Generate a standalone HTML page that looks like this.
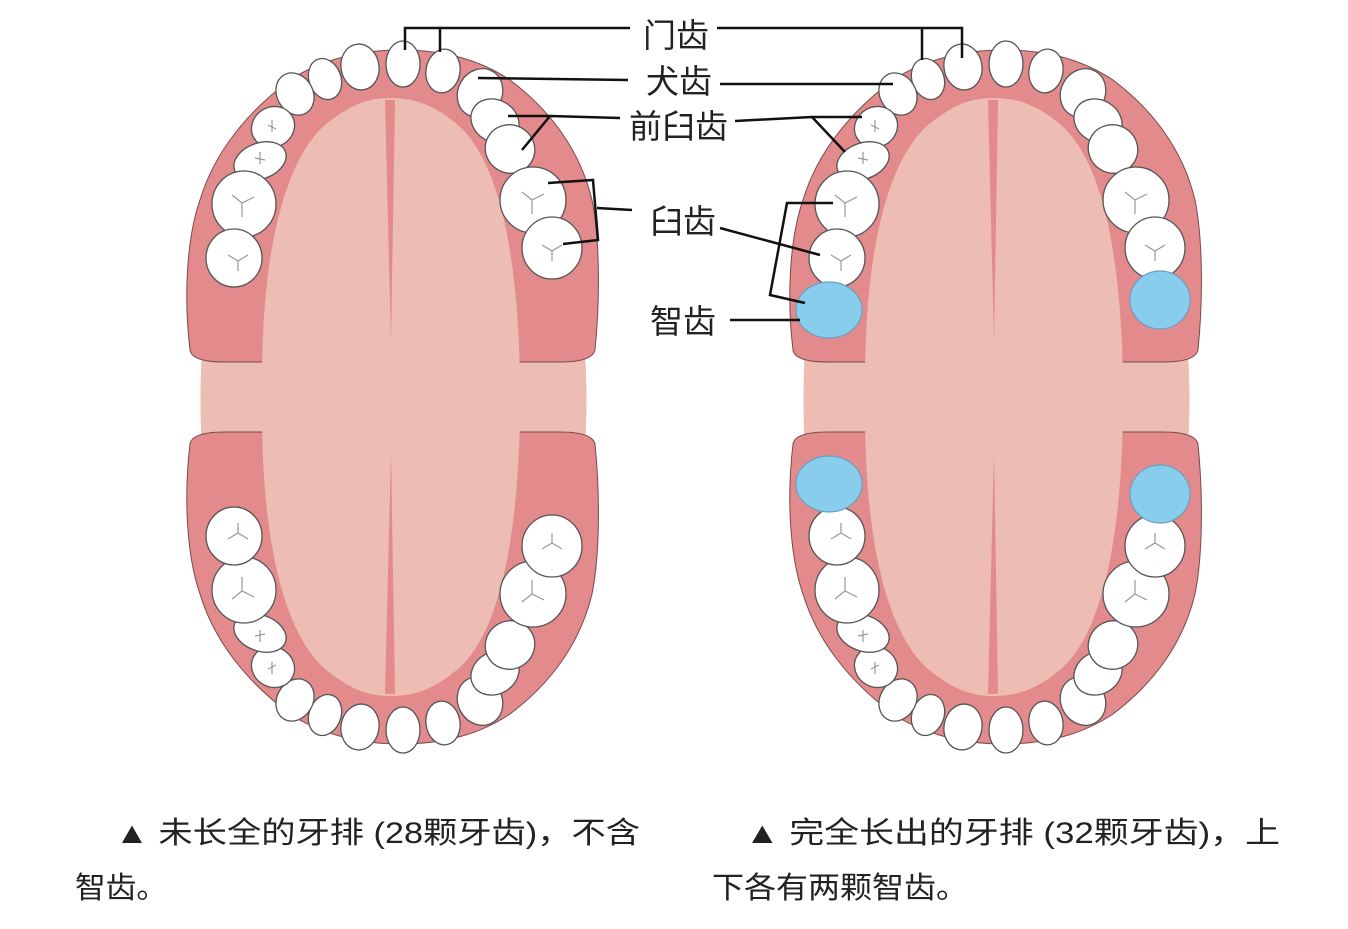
<!DOCTYPE html>
<html><head><meta charset="utf-8"><style>
body{margin:0;background:#fff;width:1348px;height:924px;overflow:hidden;font-family:"Liberation Sans","Noto Sans CJK SC",sans-serif;}
</style></head><body>
<svg width="1348" height="924" viewBox="0 0 1348 924" xmlns="http://www.w3.org/2000/svg">
<defs>
<g id="upper">
  <path d="M190,350 C184,300 186,240 200,200 C215,150 250,110 290,80 C320,60 360,50 400,50 C445,50 480,60 510,80 C550,110 580,150 592,200 C600,240 600,300 595,350 Q592,362 560,362 L225,362 Q192,362 190,350 Z" fill="#e28a8c" stroke="#7a4a4a" stroke-width="1"/>
  <path d="M262,380 C262,250 285,160 325,125 C352,103 370,98 390,98 C412,98 432,103 458,125 C498,160 518,250 520,380 Z" fill="#edbcb2"/>
  <path d="M385,100 L395,100 L391,342 Z" fill="#e28a8c"/>
  <g fill="#fff" stroke="#555" stroke-width="1.3">
    <ellipse cx="403" cy="64" rx="17" ry="23"/>
    <ellipse cx="443" cy="71" rx="17" ry="22" transform="rotate(10 443 71)"/>
    <ellipse cx="360" cy="67" rx="19" ry="23" transform="rotate(-10 360 67)"/>
    <ellipse cx="325" cy="79" rx="16" ry="21" transform="rotate(-20 325 79)"/>
    <ellipse cx="295" cy="94" rx="18" ry="22" transform="rotate(-30 295 94)"/>
    <ellipse cx="273" cy="127" rx="22" ry="20" transform="rotate(-30 273 127)"/>
    <ellipse cx="260" cy="161" rx="27" ry="18" transform="rotate(-20 260 161)"/>
    <ellipse cx="244" cy="204" rx="32" ry="33"/>
    <ellipse cx="234" cy="258" rx="28" ry="29"/>
    <ellipse cx="480" cy="93" rx="22" ry="25" transform="rotate(30 480 93)"/>
    <ellipse cx="495" cy="121" rx="25" ry="21" transform="rotate(30 495 121)"/>
    <ellipse cx="510" cy="149" rx="25" ry="24" transform="rotate(30 510 149)"/>
    <ellipse cx="533" cy="200" rx="33" ry="33"/>
    <ellipse cx="552" cy="248" rx="30" ry="31"/>
  </g>
  <g fill="none" stroke="#999" stroke-width="1.2">
    <path d="M232,195 l10,8 l12,-6 M242,203 l0,14"/>
    <path d="M228,255 l10,6 l10,-6 M238,261 l0,10"/>
    <path d="M522,192 l10,8 l12,-6 M532,200 l0,14"/>
    <path d="M542,245 l10,6 l10,-6 M552,251 l0,10"/>
    <path d="M268,125 l8,4 M272,120 l0,12"/>
    <path d="M255,158 l10,2 M260,152 l0,12"/>
  </g>
</g>
<g id="blue" fill="#88cdec" stroke="#6a9fc0" stroke-width="1.2">
  <ellipse cx="226" cy="310" rx="33" ry="28"/>
  <ellipse cx="557" cy="300" rx="30" ry="29"/>
</g>
</defs>

<path d="M203,330 Q198,400 203,470 L583,470 Q590,400 583,330 Z" fill="#edbcb2"/>
<use href="#upper"/>
<use href="#upper" transform="matrix(1,0,0,-1,0,794)"/>

<g transform="translate(603,0)">
<path d="M203,330 Q198,400 203,470 L583,470 Q590,400 583,330 Z" fill="#edbcb2"/>
<use href="#upper"/>
<use href="#blue"/>
<use href="#upper" transform="matrix(1,0,0,-1,0,794)"/>
<use href="#blue" transform="matrix(1,0,0,-1,0,794)"/>
</g>

<g fill="none" stroke="#111" stroke-width="2.5">
  <path d="M405,50 L405,28 L630,28 M440,52 L440,28"/>
  <path d="M717,28 L962,28 L962,58 M922,28 L922,60"/>
  <path d="M478,78 L628,80"/>
  <path d="M720,84 L893,84"/>
  <path d="M508,116 L550,116 L620,118 M550,116 L522,150"/>
  <path d="M735,121 L812,117 L862,117 M812,117 L845,152"/>
  <path d="M548,183 L593,180 L598,240 L563,244 M597,208 L632,210"/>
  <path d="M720,228 L820,255"/>
  <path d="M833,203 L787,203 L770,295 L805,303"/>
  <path d="M730,320 L800,320"/>
</g>

<g font-family="'Liberation Sans','Noto Sans CJK SC',sans-serif" fill="#222" font-size="33">
  <text x="643" y="47">门齿</text>
  <text x="646" y="93">犬齿</text>
  <text x="629" y="138">前臼齿</text>
  <text x="650" y="233">臼齿</text>
  <text x="650" y="333">智齿</text>
</g>
<g font-family="'Liberation Sans','Noto Sans CJK SC',sans-serif" fill="#222" font-size="30">
  <text x="115" y="843" textLength="525" lengthAdjust="spacingAndGlyphs">▲ 未长全的牙排 (28颗牙齿)，不含</text>
  <text x="75" y="898" textLength="92" lengthAdjust="spacingAndGlyphs">智齿。</text>
  <text x="745" y="843" textLength="535" lengthAdjust="spacingAndGlyphs">▲ 完全长出的牙排 (32颗牙齿)，上</text>
  <text x="712" y="898" textLength="256" lengthAdjust="spacingAndGlyphs">下各有两颗智齿。</text>
</g>
</svg>
</body></html>
